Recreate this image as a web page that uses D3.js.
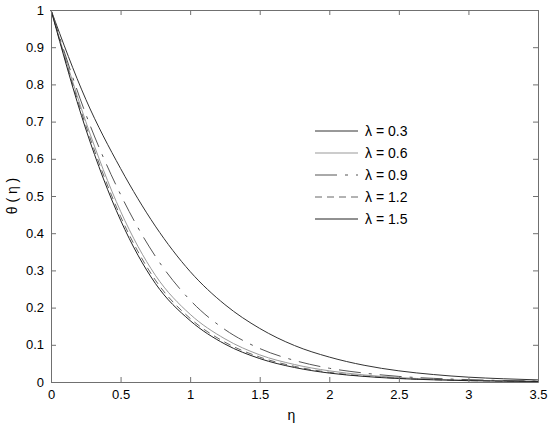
<!DOCTYPE html>
<html>
<head>
<meta charset="utf-8">
<script src="https://cdn.jsdelivr.net/npm/d3@7"></script>
<style>
  html, body { margin: 0; padding: 0; background: #fff; }
  svg text { font-family: Arial, "Liberation Sans", sans-serif; fill: #000; }
</style>
</head>
<body>
<div id="chart"></div>
<script>
  // eta grid and theta values
  var eta = [0, 0.25, 0.5, 0.75, 1, 1.25, 1.5, 1.75, 2, 2.25, 2.5, 2.75, 3, 3.25, 3.5];
  var theta03 = [1, 0.76, 0.574, 0.419, 0.297, 0.208, 0.144, 0.098, 0.067, 0.045, 0.030, 0.020, 0.013, 0.0087, 0.0057];
  var theta06 = [1, 0.70, 0.459, 0.287, 0.182, 0.116, 0.073, 0.047, 0.030, 0.019, 0.012, 0.0075, 0.0048, 0.003, 0.0019];
  var theta09 = [1, 0.72, 0.504, 0.338, 0.22, 0.141, 0.090, 0.058, 0.037, 0.024, 0.015, 0.0098, 0.0063, 0.004, 0.0026];
  var theta12 = [1, 0.69, 0.445, 0.274, 0.171, 0.107, 0.067, 0.042, 0.026, 0.016, 0.010, 0.0063, 0.0039, 0.0024, 0.0015];
  var theta15 = [1, 0.68, 0.435, 0.265, 0.165, 0.102, 0.063, 0.039, 0.024, 0.015, 0.0093, 0.0058, 0.0036, 0.0022, 0.0014];

  var lambdas = ['0.3', '0.6', '0.9', '1.2', '1.5'];
  var seriesValues = [theta03, theta06, theta09, theta12, theta15];

  var xTicks = [0, 0.5, 1, 1.5, 2, 2.5, 3, 3.5];
  var yTicks = [0, 0.1, 0.2, 0.3, 0.4, 0.5, 0.6, 0.7, 0.8, 0.9, 1];

  // line styles per lambda (legend order)
  var STYLES = [
    { color: '#333', dash: null },
    { color: '#999', dash: null },
    { color: '#555', dash: '22,8,3,8' },
    { color: '#666', dash: '7,5' },
    { color: '#222', dash: null }
  ];

  var W = 550, H = 427;
  var margin = { top: 10, right: 12, bottom: 45, left: 51 };
  var width = W - margin.left - margin.right;
  var height = H - margin.top - margin.bottom;

  var svg = d3.select('#chart').append('svg')
    .attr('width', W)
    .attr('height', H);

  var g = svg.append('g')
    .attr('transform', 'translate(' + margin.left + ',' + margin.top + ')');

  var x = d3.scaleLinear().domain([0, 3.5]).range([0, width]);
  var y = d3.scaleLinear().domain([0, 1]).range([height, 0]);

  var AXIS = '#707070';

  // curves
  var line = d3.line()
    .x(function (d) { return x(d[0]); })
    .y(function (d) { return y(d[1]); })
    .curve(d3.curveMonotoneX);

  seriesValues.forEach(function (vals, i) {
    var pts = eta.map(function (e, j) { return [e, vals[j]]; });
    g.append('path')
      .datum(pts)
      .attr('fill', 'none')
      .attr('stroke', STYLES[i].color)
      .attr('stroke-width', 1)
      .attr('stroke-dasharray', STYLES[i].dash)
      .attr('d', line);
  });

  // axes: inward ticks on all four sides
  var fmt = function (d) { return String(d); };
  g.append('g')
    .attr('transform', 'translate(0,' + height + ')')
    .call(d3.axisBottom(x).tickValues(xTicks).tickFormat(fmt).tickSizeInner(-5).tickSizeOuter(0).tickPadding(8));
  g.append('g')
    .call(d3.axisTop(x).tickValues(xTicks).tickFormat('').tickSizeInner(-5).tickSizeOuter(0));
  g.append('g')
    .call(d3.axisLeft(y).tickValues(yTicks).tickFormat(fmt).tickSizeInner(-5).tickSizeOuter(0).tickPadding(7));
  g.append('g')
    .attr('transform', 'translate(' + width + ',0)')
    .call(d3.axisRight(y).tickValues(yTicks).tickFormat('').tickSizeInner(-5).tickSizeOuter(0));

  g.selectAll('.domain').attr('stroke', AXIS);
  g.selectAll('.tick line').attr('stroke', AXIS);
  g.selectAll('.tick text')
    .attr('font-size', '13px')
    .attr('font-family', 'Arial, "Liberation Sans", sans-serif')
    .attr('fill', '#000');

  // axis labels
  svg.append('text')
    .attr('x', margin.left + width / 2 - 3)
    .attr('y', 420)
    .attr('text-anchor', 'middle')
    .attr('font-size', '14px')
    .text('\u03b7');

  svg.append('text')
    .attr('transform', 'translate(17,' + (margin.top + height / 2) + ') rotate(-90)')
    .attr('text-anchor', 'middle')
    .attr('font-size', '14px')
    .text('\u03b8 ( \u03b7 )');

  // legend
  var legend = svg.append('g').attr('transform', 'translate(315,131)');
  lambdas.forEach(function (lam, i) {
    var row = legend.append('g').attr('transform', 'translate(0,' + (i * 22) + ')');
    row.append('line')
      .attr('x1', 0).attr('x2', 43)
      .attr('y1', 0).attr('y2', 0)
      .attr('stroke', STYLES[i].color)
      .attr('stroke-width', 1)
      .attr('stroke-dasharray', STYLES[i].dash);
    row.append('text')
      .attr('x', 50)
      .attr('y', 5)
      .attr('font-size', '14px')
      .text('\u03bb = ' + lam);
  });
</script>
</body>
</html>
